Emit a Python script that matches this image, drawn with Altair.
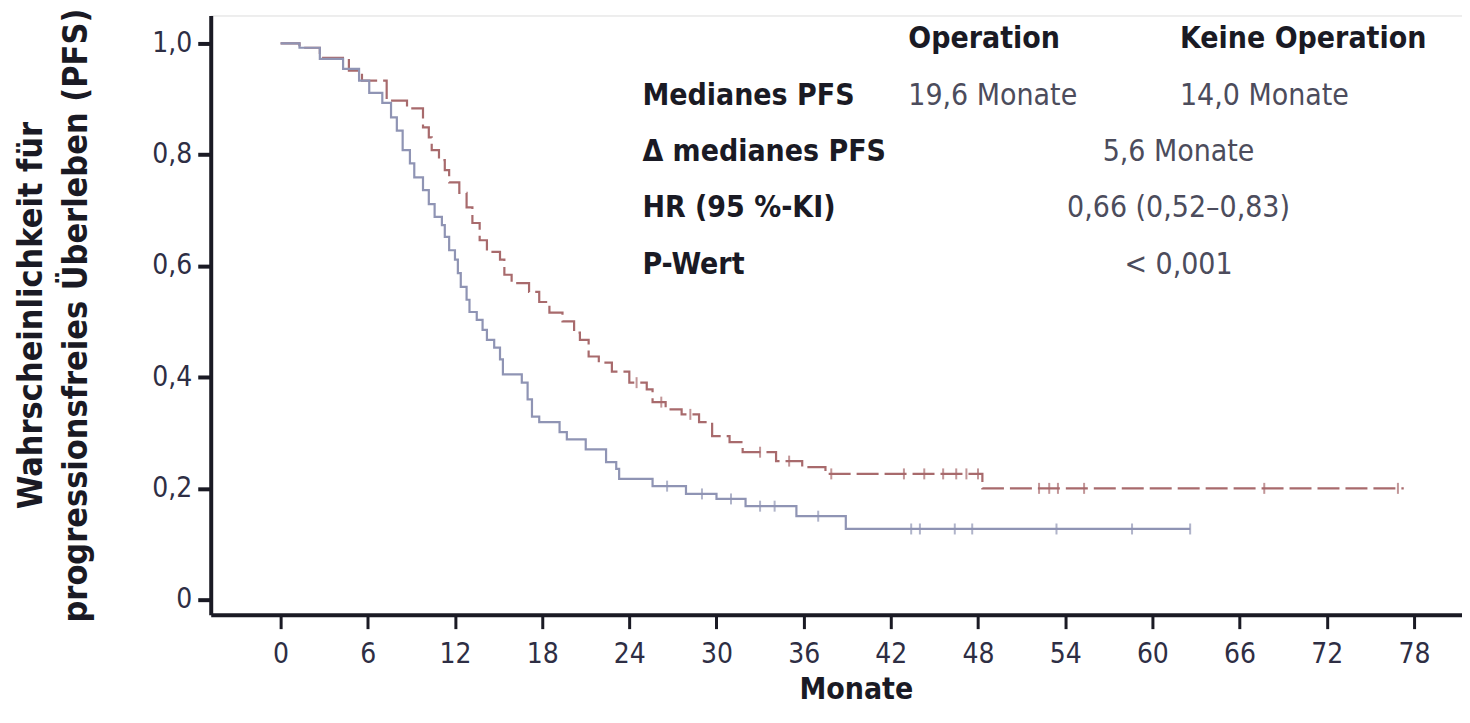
import altair as alt
import pandas as pd

# ---------------- data ----------------
op_t = [0, 1.3, 2.7, 4.7, 5.6, 7.3, 8.7, 9.8, 10.2, 10.4, 10.9, 11.3, 11.6, 12.3, 12.8, 13.2,
        13.7, 14.2, 15.1, 15.4, 15.9, 17.1, 17.8, 18.5, 19.4, 20.2, 20.6, 21.2, 21.9, 22.8,
        24.0, 25.2, 25.6, 26.5, 27.6, 28.8, 29.7, 30.9, 31.8, 34.1, 35.9, 37.5, 48.3, 77.3]
op_s = [1.0, 0.992, 0.974, 0.951, 0.933, 0.897, 0.883, 0.849, 0.831, 0.808, 0.790, 0.772, 0.750,
        0.731, 0.705, 0.677, 0.646, 0.625, 0.611, 0.584, 0.569, 0.553, 0.535, 0.516, 0.500,
        0.480, 0.467, 0.437, 0.426, 0.410, 0.390, 0.378, 0.355, 0.342, 0.333, 0.319, 0.294,
        0.283, 0.265, 0.249, 0.238, 0.226, 0.200, 0.200]

no_t = [0, 1.3, 2.7, 4.3, 5.4, 6.1, 7.0, 7.6, 8.0, 8.4, 8.9, 9.2, 9.8, 10.2, 10.6, 11.1, 11.3,
        11.6, 12.0, 12.2, 12.4, 12.8, 13.0, 13.5, 13.9, 14.2, 14.7, 15.1, 15.3, 16.6, 17.0,
        17.3, 17.8, 19.2, 19.7, 21.0, 22.4, 23.1, 23.3, 25.6, 27.9, 30.0, 32.0, 35.5, 38.9, 62.6]
no_s = [1.0, 0.992, 0.972, 0.954, 0.933, 0.911, 0.893, 0.867, 0.843, 0.808, 0.784, 0.759, 0.736,
        0.711, 0.688, 0.673, 0.652, 0.628, 0.611, 0.587, 0.562, 0.539, 0.517, 0.503, 0.485,
        0.467, 0.453, 0.432, 0.405, 0.390, 0.360, 0.329, 0.319, 0.301, 0.288, 0.270, 0.247,
        0.235, 0.217, 0.204, 0.190, 0.181, 0.168, 0.150, 0.127, 0.127]

op_censor_t = [24.5, 26.2, 28.2, 33.0, 35.0, 37.9, 42.9, 44.3, 45.6, 46.5, 47.2, 48.0,
               52.2, 52.9, 53.5, 55.3, 67.7, 76.9]
no_censor_t = [26.6, 29.0, 31.0, 33.0, 34.0, 37.0, 43.4, 44.0, 46.4, 47.6, 53.4, 58.6, 62.6]

x_ticks = [0, 6, 12, 18, 24, 30, 36, 42, 48, 54, 60, 66, 72, 78]
y_ticks = [0, 0.2, 0.4, 0.6, 0.8, 1.0]

group_names = ["Operation", "Keine Operation"]
row_labels = ["Medianes PFS", "Δ medianes PFS", "HR (95 %-KI)", "P-Wert"]
median_values = ["19,6 Monate", "14,0 Monate"]
summary_values = ["5,6 Monate", "0,66 (0,52–0,83)", "< 0,001"]

x_title = "Monate"
y_title = ["Wahrscheinlichkeit für", "progressionsfreies Überleben (PFS)"]

# ---------------- layout / style ----------------
FONT = "DejaVu Sans Condensed"
RED = "#a86a6c"
BLUE = "#8f94b4"
INK = "#1a1a24"
GREY = "#4c4c5c"

col_x = [43.2, 61.9]      # table columns (months)
label_x = 24.9
center_x = 61.8
header_y = 1.008
row_y = [0.906, 0.804, 0.704, 0.602]


def surv_at(ts, ss, t):
    s = ss[0]
    for ti, si in zip(ts, ss):
        if ti <= t:
            s = si
    return s


curves = pd.DataFrame(
    {"t": op_t + no_t,
     "s": op_s + no_s,
     "g": [group_names[0]] * len(op_t) + [group_names[1]] * len(no_t)}
)
cens = pd.DataFrame(
    {"t": op_censor_t + no_censor_t,
     "s": [surv_at(op_t, op_s, t) for t in op_censor_t] + [surv_at(no_t, no_s, t) for t in no_censor_t],
     "g": [group_names[0]] * len(op_censor_t) + [group_names[1]] * len(no_censor_t)}
)

x_scale = alt.Scale(domain=[-4.81, 81.31], nice=False, zero=False)
y_scale = alt.Scale(domain=[-0.027, 1.05], nice=False, zero=False)

x_axis = alt.Axis(
    values=x_ticks, title=x_title, grid=False,
    domainWidth=4, domainColor=INK, tickColor=INK, tickWidth=3, tickSize=14,
    labelFont=FONT, labelFontSize=28, labelColor="#2e2e44", labelPadding=12,
    titleFont=FONT, titleFontSize=30, titleFontWeight="bold", titleColor=INK,
    titleX=646, titleY=84, titleAlign="center", titleBaseline="alphabetic",
)
y_axis = alt.Axis(
    values=y_ticks, title=y_title, grid=False,
    labelExpr="datum.value == 0 ? '0' : replace(format(datum.value, '.1f'), '.', ',')",
    domainWidth=4, domainColor=INK, tickColor=INK, tickWidth=4, tickSize=13,
    labelFont=FONT, labelFontSize=28, labelColor="#2e2e44", labelPadding=6,
    titleFont=FONT, titleFontSize=34, titleFontWeight="bold", titleColor=INK,
    titleAngle=270, titleX=-196, titleBaseline="top", titleAlign="center", titleLineHeight=45,
)

color = alt.Color("g:N", scale=alt.Scale(domain=group_names, range=[RED, BLUE]), legend=None)

op_line = alt.Chart(curves).transform_filter(alt.datum.g == group_names[0]).mark_line(
    interpolate="step-after", strokeWidth=2.2, strokeDash=[22, 6], color=RED
).encode(x=alt.X("t:Q", scale=x_scale, axis=x_axis), y=alt.Y("s:Q", scale=y_scale, axis=y_axis))

no_line = alt.Chart(curves).transform_filter(alt.datum.g == group_names[1]).mark_line(
    interpolate="step-after", strokeWidth=2.2, color=BLUE
).encode(x="t:Q", y="s:Q")

ticks = alt.Chart(cens).mark_tick(orient="vertical", size=11, thickness=2).encode(
    x="t:Q", y="s:Q", color=color
)

# table
bold_df = pd.DataFrame({
    "text": group_names + row_labels,
    "x": col_x + [label_x] * len(row_labels),
    "y": [header_y, header_y] + row_y,
})
val_df = pd.DataFrame({"text": median_values, "x": col_x, "y": [row_y[0], row_y[0]]})
ctr_df = pd.DataFrame({"text": summary_values, "x": [center_x] * 3, "y": row_y[1:]})

bold_txt = alt.Chart(bold_df).mark_text(
    align="left", baseline="middle", font=FONT, fontSize=30, fontWeight="bold", color=INK
).encode(x="x:Q", y="y:Q", text="text:N")
val_txt = alt.Chart(val_df).mark_text(
    align="left", baseline="middle", font=FONT, fontSize=30, color=GREY
).encode(x="x:Q", y="y:Q", text="text:N")
ctr_txt = alt.Chart(ctr_df).mark_text(
    align="center", baseline="middle", font=FONT, fontSize=30, color=GREY
).encode(x="x:Q", y="y:Q", text="text:N")

chart = alt.layer(op_line, no_line, ticks, bold_txt, val_txt, ctr_txt).properties(
    width=1253, height=600,
    autosize=alt.AutoSizeParams(type="none"),
    padding={"left": 203, "top": 7, "right": 0, "bottom": 96},
).configure_view(stroke=None).configure(background="white")

chart.save("out.html", embed_options={"renderer": "svg", "actions": False})
